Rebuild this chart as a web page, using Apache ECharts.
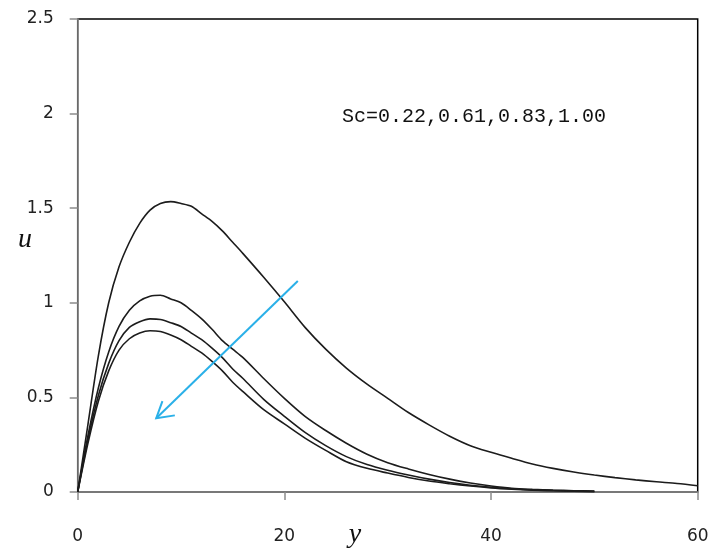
<!DOCTYPE html>
<html>
<head>
<meta charset="utf-8">
<script src="https://cdn.jsdelivr.net/npm/echarts@6/dist/echarts.min.js"></script>
<style>
  html, body { margin: 0; padding: 0; background: #fff; }
  #chart { width: 710px; height: 553px; }
</style>
</head>
<body>
<div id="chart"></div>
<script>
// Velocity profiles u(y) for several Schmidt numbers
const yPos = [0, 1, 2, 3, 4, 5, 6, 7, 8, 9, 10, 11, 12, 13, 14, 15, 16, 18, 20, 22, 24, 26, 28, 30,
  32, 34, 36, 38, 40, 42, 44, 46, 48, 50, 52, 54, 56, 58, 60];

const uSc022 = [0, 0.36, 0.72, 1.00, 1.19, 1.32, 1.42, 1.49, 1.525, 1.535, 1.525, 1.51, 1.47, 1.43,
  1.38, 1.32, 1.26, 1.135, 1.005, 0.87, 0.755, 0.655, 0.57, 0.495, 0.42, 0.355, 0.295, 0.245,
  0.21, 0.178, 0.148, 0.125, 0.106, 0.09, 0.076, 0.064, 0.054, 0.045, 0.033];

const uSc061 = [0, 0.30, 0.55, 0.74, 0.875, 0.96, 1.01, 1.035, 1.04, 1.02, 1.00, 0.96, 0.915, 0.86,
  0.80, 0.755, 0.71, 0.60, 0.495, 0.40, 0.325, 0.258, 0.20, 0.155, 0.122, 0.093, 0.068, 0.048,
  0.032, 0.02, 0.014, 0.01, 0.007, 0.005];

const uSc083 = [0, 0.28, 0.51, 0.68, 0.80, 0.87, 0.90, 0.915, 0.912, 0.895, 0.875, 0.84, 0.805, 0.76,
  0.71, 0.65, 0.60, 0.49, 0.40, 0.315, 0.245, 0.187, 0.145, 0.115, 0.09, 0.068, 0.05, 0.036,
  0.025, 0.017, 0.011, 0.008, 0.005, 0.003];

const uSc100 = [0, 0.26, 0.48, 0.64, 0.75, 0.81, 0.84, 0.852, 0.848, 0.83, 0.805, 0.77, 0.735, 0.69,
  0.64, 0.58, 0.53, 0.435, 0.36, 0.285, 0.22, 0.16, 0.125, 0.10, 0.077, 0.058, 0.044, 0.032,
  0.022, 0.015, 0.01, 0.007, 0.004, 0.002];

const xTicks = [0, 20, 40, 60];
const yTicks = [0, 0.5, 1, 1.5, 2, 2.5];

// Arrow pointing in the direction of increasing Sc (data coordinates)
const arrowTail = [21.3, 1.115];
const arrowTip = [7.6, 0.39];
const arrowArmA = [8.2, 0.48];
const arrowArmB = [9.4, 0.405];

const scLabel = 'Sc=0.22,0.61,0.83,1.00';
const xName = 'y';
const yName = 'u';

function pairs(xs, ys) {
  return ys.map((v, i) => [xs[i], v]);
}

const curveStyle = { color: '#1c1c1c', width: 1.6 };
function curve(name, values) {
  return {
    name: name,
    type: 'line',
    data: pairs(yPos, values),
    smooth: 0.3,
    showSymbol: false,
    lineStyle: curveStyle,
    itemStyle: { color: '#1c1c1c' },
    z: 3
  };
}

const chart = echarts.init(document.getElementById('chart'), null, { renderer: 'canvas' });

const tickFont = { fontFamily: 'DejaVu Sans', fontSize: 17, color: '#222' };
const nameFont = 'italic 28px "Liberation Serif"';

chart.setOption({
  animation: false,
  backgroundColor: '#fff',
  grid: {
    left: 77.7, right: 12.3, top: 19, bottom: 61,
    outerBoundsMode: 'none',
    containLabel: false,
    show: true, borderColor: '#000', borderWidth: 1.5, backgroundColor: 'transparent'
  },
  xAxis: {
    type: 'value',
    min: xTicks[0], max: xTicks[xTicks.length - 1], interval: 20,
    axisLine: { show: true, lineStyle: { color: '#8c8c8c', width: 1.5 } },
    axisTick: { show: true, inside: false, length: 8, lineStyle: { color: '#8c8c8c', width: 1.5 } },
    axisLabel: Object.assign({ margin: 36 }, tickFont),
    splitLine: { show: false }
  },
  yAxis: {
    type: 'value',
    min: yTicks[0], max: yTicks[yTicks.length - 1], interval: 0.5,
    axisLine: { show: true, lineStyle: { color: '#8c8c8c', width: 1.5 } },
    axisTick: { show: true, inside: false, length: 8, lineStyle: { color: '#8c8c8c', width: 1.5 } },
    axisLabel: Object.assign({ margin: 24 }, tickFont),
    splitLine: { show: false }
  },
  series: [
    curve('Sc=0.22', uSc022),
    curve('Sc=0.61', uSc061),
    curve('Sc=0.83', uSc083),
    curve('Sc=1.00', uSc100),
    {
      name: 'arrow',
      type: 'lines',
      coordinateSystem: 'cartesian2d',
      polyline: true,
      lineStyle: { color: '#2ab0e8', width: 2, opacity: 1 },
      data: [
        { coords: [arrowTail, arrowTip] },
        { coords: [arrowArmA, arrowTip, arrowArmB] }
      ],
      z: 4
    }
  ],
  graphic: [
    {
      type: 'text',
      left: 342,
      top: 107,
      style: { text: scLabel, font: '20px "Liberation Mono"', fill: '#111' }
    },
    {
      type: 'text',
      x: 25, y: 240,
      style: { text: yName, font: nameFont, fill: '#111', align: 'center', verticalAlign: 'middle' }
    },
    {
      type: 'text',
      x: 355, y: 535,
      style: { text: xName, font: nameFont, fill: '#111', align: 'center', verticalAlign: 'middle' }
    }
  ]
});
</script>
</body>
</html>
